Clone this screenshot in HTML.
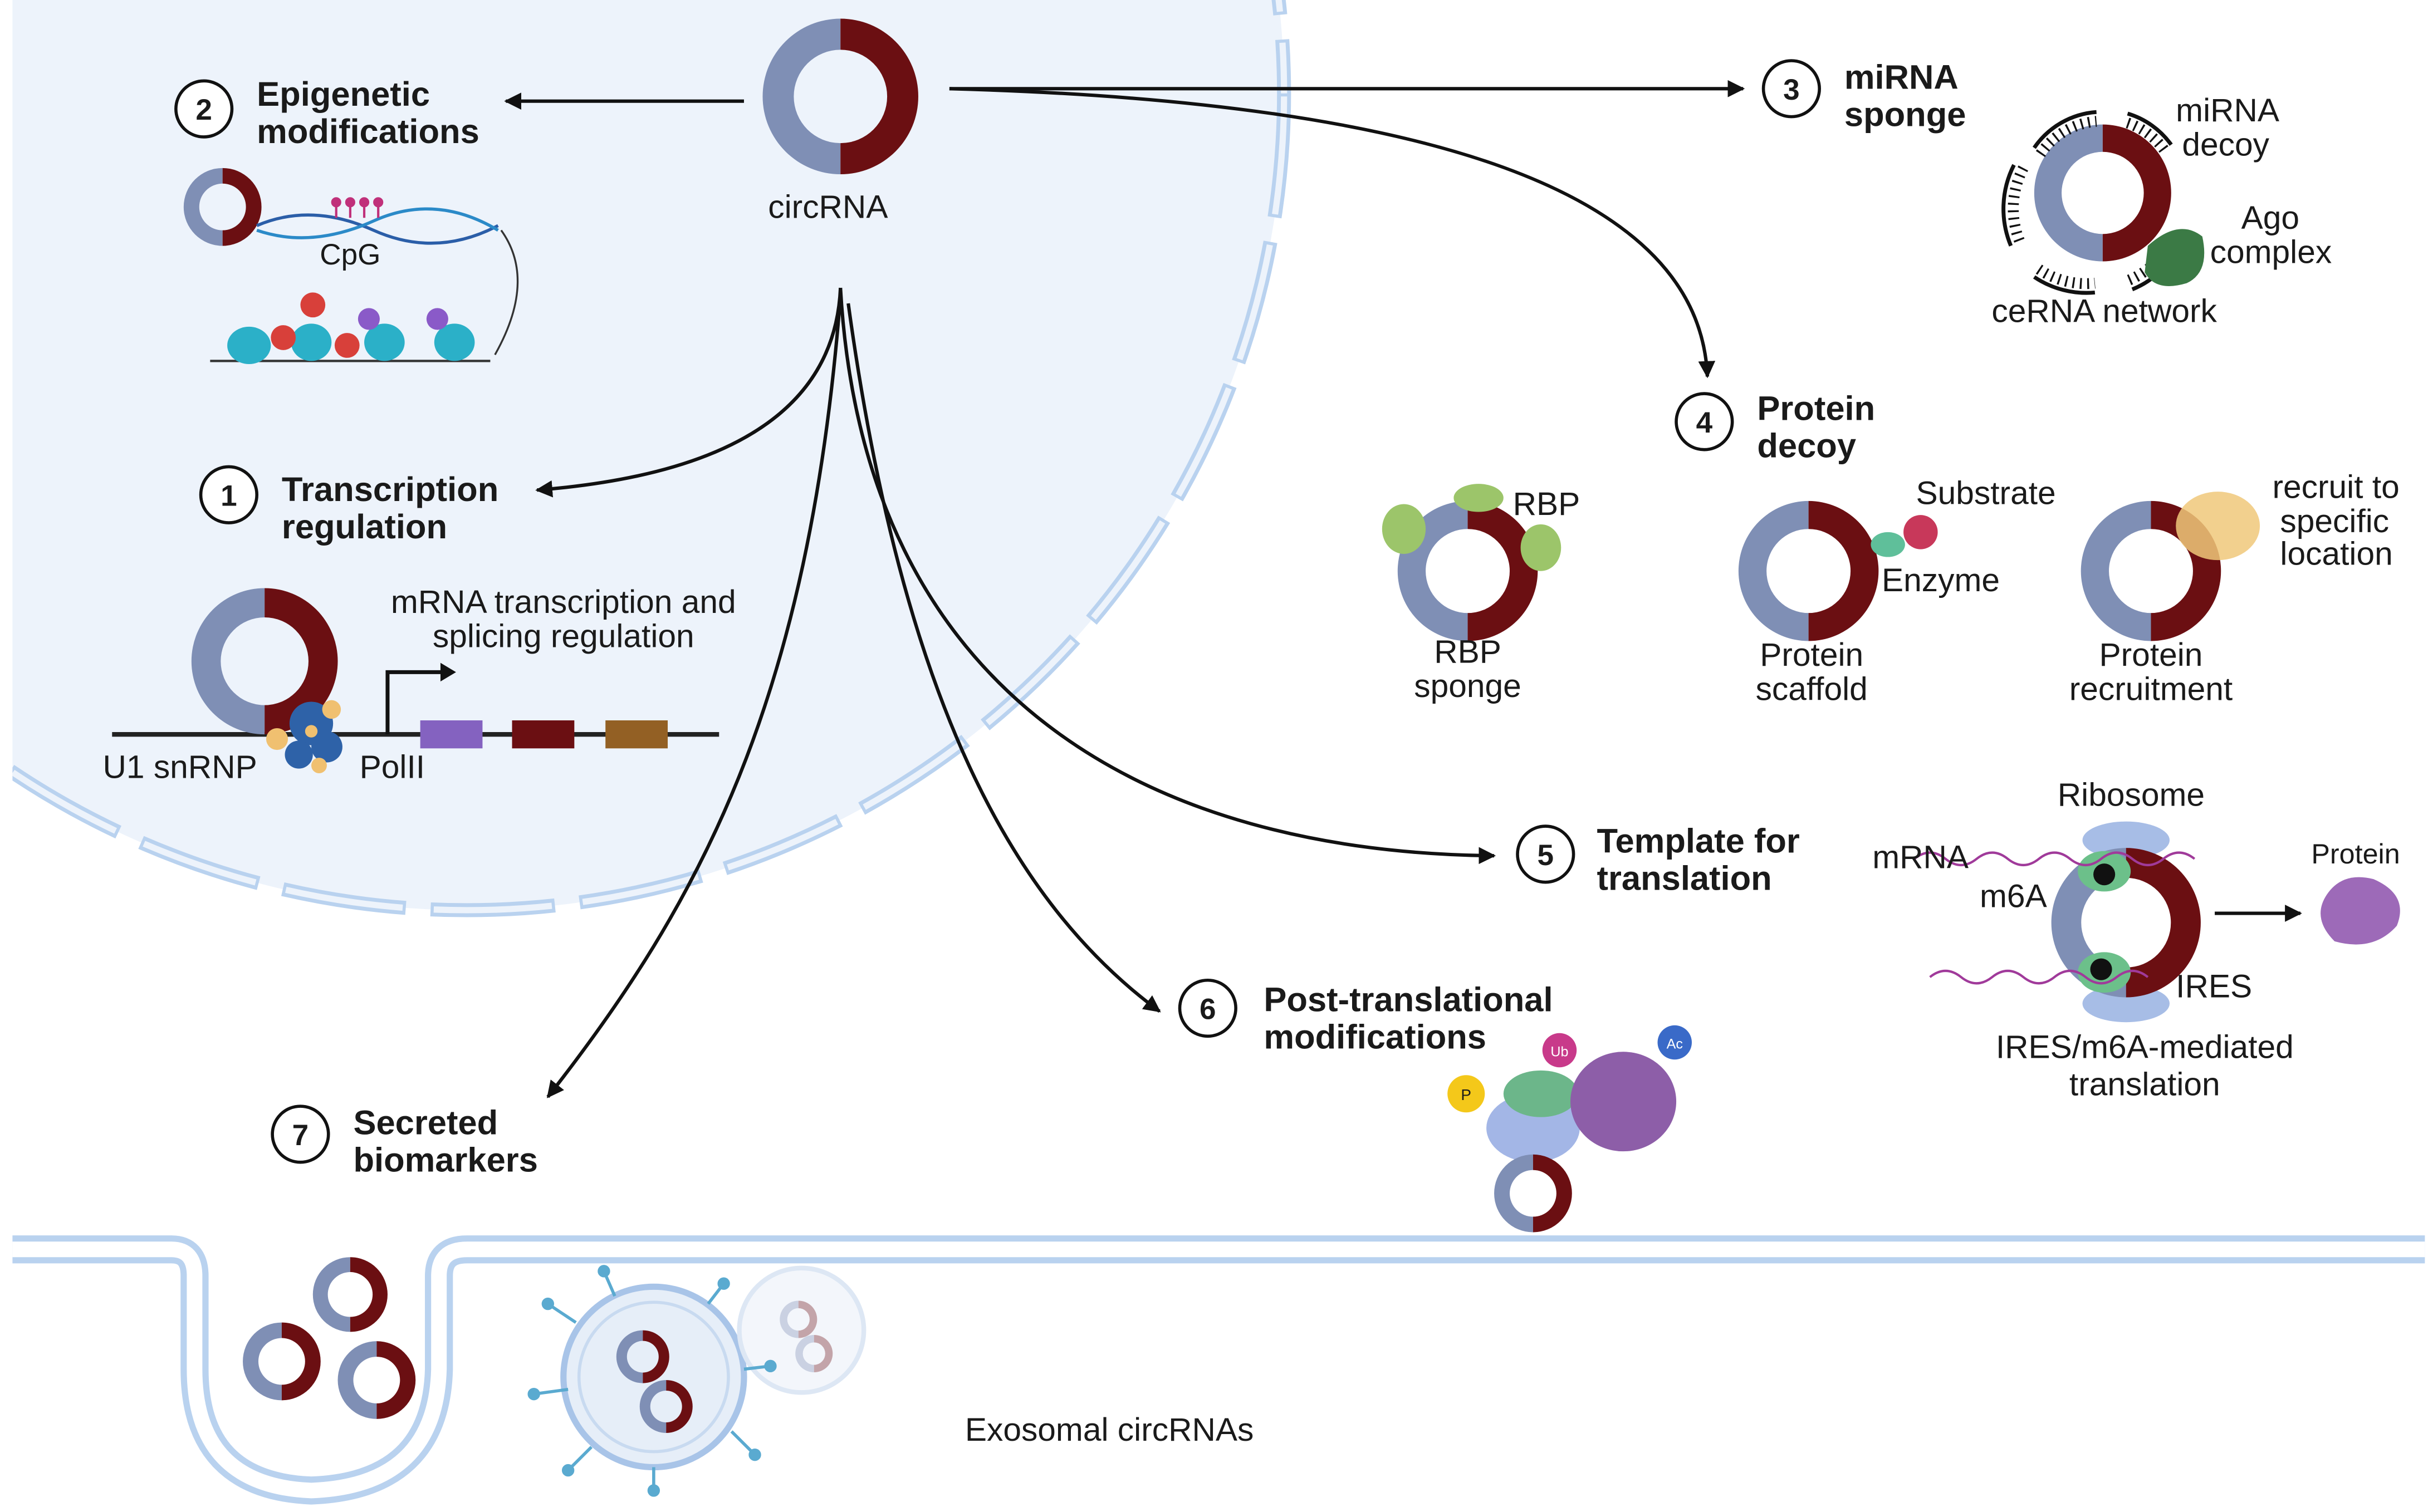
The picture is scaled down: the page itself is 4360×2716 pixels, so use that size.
<!DOCTYPE html>
<html><head><meta charset="utf-8"><style>
html,body{margin:0;padding:0;background:#fff;}
svg{display:block;}
text{font-family:"Liberation Sans",Arial,sans-serif;fill:#1a1a1a;}
.h{font-weight:bold;font-size:22px;}
.t{font-size:21px;}
.n{font-size:19px;font-weight:bold;text-anchor:middle;}
</style></head><body>
<svg width="4360" height="2716" viewBox="0 0 1560 971.8" xmlns="http://www.w3.org/2000/svg">
<defs>
<g id="ring">
<path d="M0,-50 A50,50 0 0,0 0,50 L0,30 A30,30 0 0,1 0,-30 Z" fill="#7f8fb5"/>
<path d="M0,-50 A50,50 0 0,1 0,50 L0,30 A30,30 0 0,0 0,-30 Z" fill="#6b0f12"/>
</g>
<marker id="ah" viewBox="0 0 10 10" refX="9" refY="5" markerWidth="5" markerHeight="5" orient="auto-start-reverse"><path d="M0,0 L10,5 L0,10 Z" fill="#111"/></marker>
</defs>
<rect width="1560" height="972" fill="#fff"/>
<clipPath id="c"><rect x="8" y="0" width="1552" height="972"/></clipPath>
<g clip-path="url(#c)">
<circle cx="300" cy="60" r="525" fill="#edf3fb"/>
<circle cx="300" cy="60" r="525" fill="none" stroke="#b9d2ef" stroke-width="9" stroke-dasharray="80 16"/>
<circle cx="300" cy="60" r="525" fill="none" stroke="#edf3fb" stroke-width="4" stroke-dasharray="76 20" stroke-dashoffset="-2"/>
</g>
<path d="M8,803 H110 Q125,803 125,820 V880 Q125,955 200,958 Q280,955 282,880 V820 Q282,803 300,803 H1558" fill="none" stroke="#b9d2ef" stroke-width="18"/>
<path d="M8,803 H110 Q125,803 125,820 V880 Q125,955 200,958 Q280,955 282,880 V820 Q282,803 300,803 H1558" fill="none" stroke="#fff" stroke-width="10"/>
<g fill="none" stroke="#111" stroke-width="2.2" marker-end="url(#ah)">
<path d="M478,65 H325"/>
<path d="M610,57 H1120"/>
<path d="M610,57 Q1090,70 1097,242"/>
<path d="M540,185 Q535,300 345,315"/>
<path d="M540,185 C555,450 740,548 960,550"/>
<path d="M545,195 C580,450 650,580 745,650"/>
<path d="M540,190 C520,450 450,580 352,705"/>
</g>
<use href="#ring" transform="translate(540,62)"/>
<text class="t" x="532" y="140" text-anchor="middle">circRNA</text>
<g fill="#fff" stroke="#111" stroke-width="2">
<circle cx="131" cy="70" r="18"/><circle cx="1151" cy="57" r="18"/><circle cx="1095" cy="271" r="18"/>
<circle cx="147" cy="318" r="18"/><circle cx="993" cy="549" r="18"/><circle cx="776" cy="648" r="18"/><circle cx="193" cy="729" r="18"/>
</g>
<text class="n" x="131" y="77">2</text><text class="n" x="1151" y="64">3</text><text class="n" x="1095" y="278">4</text>
<text class="n" x="147" y="325">1</text><text class="n" x="993" y="556">5</text><text class="n" x="776" y="655">6</text><text class="n" x="193" y="736">7</text>
<text class="h" x="165" y="68">Epigenetic</text><text class="h" x="165" y="92">modifications</text>
<text class="h" x="1185" y="57">miRNA</text><text class="h" x="1185" y="81">sponge</text>
<text class="h" x="1129" y="270">Protein</text><text class="h" x="1129" y="294">decoy</text>
<text class="h" x="181" y="322">Transcription</text><text class="h" x="181" y="346">regulation</text>
<text class="h" x="1026" y="548">Template for</text><text class="h" x="1026" y="572">translation</text>
<text class="h" x="812" y="650">Post-translational</text><text class="h" x="812" y="674">modifications</text>
<text class="h" x="227" y="729">Secreted</text><text class="h" x="227" y="753">biomarkers</text>
<use href="#ring" transform="translate(143,133) scale(0.5)"/>
<path d="M165,145 Q200,130 240,148 T320,145" fill="none" stroke="#2b5ea8" stroke-width="2"/>
<path d="M165,148 Q200,160 240,142 T320,148" fill="none" stroke="#2b8ac8" stroke-width="2"/>
<g stroke="#c0307a" stroke-width="1.5" fill="#c0307a"><line x1="216" y1="140" x2="216" y2="130"/><line x1="225" y1="140" x2="225" y2="130"/><line x1="234" y1="140" x2="234" y2="130"/><line x1="243" y1="140" x2="243" y2="130"/>
<circle cx="216" cy="130" r="2.5"/><circle cx="225" cy="130" r="2.5"/><circle cx="234" cy="130" r="2.5"/><circle cx="243" cy="130" r="2.5"/></g>
<text class="t" x="225" y="170" text-anchor="middle" style="font-size:19px">CpG</text>
<path d="M322,148 Q345,180 318,228" fill="none" stroke="#333" stroke-width="1.2"/>
<line x1="135" y1="232" x2="315" y2="232" stroke="#333" stroke-width="1.5"/>
<g fill="#2bb0c8"><ellipse cx="160" cy="222" rx="14" ry="12"/><ellipse cx="200" cy="220" rx="13" ry="12"/><ellipse cx="247" cy="220" rx="13" ry="12"/><ellipse cx="292" cy="220" rx="13" ry="12"/></g>
<g fill="#d8403a"><circle cx="201" cy="196" r="8"/><circle cx="182" cy="217" r="8"/><circle cx="223" cy="222" r="8"/></g>
<g fill="#8a5ac8"><circle cx="237" cy="205" r="7"/><circle cx="281" cy="205" r="7"/></g>
<line x1="72" y1="472" x2="462" y2="472" stroke="#222" stroke-width="3"/>
<use href="#ring" transform="translate(170,425) scale(0.94)"/>
<g fill="#2e62a8"><circle cx="200" cy="465" r="14"/><circle cx="210" cy="480" r="10"/><circle cx="192" cy="485" r="9"/></g>
<g fill="#f0c070"><circle cx="178" cy="475" r="7"/><circle cx="213" cy="456" r="6"/><circle cx="205" cy="492" r="5"/><circle cx="200" cy="470" r="4"/></g>
<path d="M249,472 V432 H285" fill="none" stroke="#111" stroke-width="2.5"/><path d="M283,426 L293,432 L283,438 Z" fill="#111"/>
<rect x="270" y="463" width="40" height="18" fill="#8462c0"/><rect x="329" y="463" width="40" height="18" fill="#6b0f12"/><rect x="389" y="463" width="40" height="18" fill="#936024"/>
<text class="t" x="362" y="394" text-anchor="middle">mRNA transcription and</text>
<text class="t" x="362" y="416" text-anchor="middle">splicing regulation</text>
<text class="t" x="66" y="500">U1 snRNP</text><text class="t" x="231" y="500">PolII</text>
<use href="#ring" transform="translate(1351,124) scale(0.88)"/>
<g fill="none" stroke="#111" stroke-width="2.5">
<path d="M1307,95 A53,53 0 0,1 1347,72"/><path d="M1367,73 A53,53 0 0,1 1395,93"/>
<path d="M1294,106 A62,62 0 0,0 1292,158"/><path d="M1307,178 A60,60 0 0,0 1346,188"/><path d="M1370,186 A58,58 0 0,0 1398,162"/>
</g>
<g fill="none" stroke="#111" stroke-width="7" stroke-dasharray="1.2 3.5">
<path d="M1311,99 A48,48 0 0,1 1347,78"/><path d="M1367,79 A48,48 0 0,1 1391,97"/>
<path d="M1300,108 A56,56 0 0,0 1298,156"/><path d="M1310,173 A54,54 0 0,0 1346,182"/><path d="M1368,180 A52,52 0 0,0 1393,158"/>
</g>
<path d="M1380,158 Q1400,140 1415,152 Q1420,175 1405,182 Q1385,188 1378,175 Z" fill="#3b7a45"/>
<text class="t" x="1398" y="78">miRNA</text><text class="t" x="1402" y="100">decoy</text>
<text class="t" x="1440" y="147">Ago</text><text class="t" x="1420" y="169">complex</text>
<text class="t" x="1352" y="207" text-anchor="middle">ceRNA network</text>
<use href="#ring" transform="translate(943,367) scale(0.9)"/>
<g fill="#9cc56a"><ellipse cx="950" cy="320" rx="16" ry="9"/><ellipse cx="902" cy="340" rx="14" ry="16"/><ellipse cx="990" cy="352" rx="13" ry="15"/></g>
<text class="t" x="972" y="331">RBP</text>
<text class="t" x="943" y="426" text-anchor="middle">RBP</text><text class="t" x="943" y="448" text-anchor="middle">sponge</text>
<use href="#ring" transform="translate(1162,367) scale(0.9)"/>
<ellipse cx="1213" cy="350" rx="11" ry="8" fill="#5fbf9a"/><circle cx="1234" cy="342" r="11" fill="#c8385a"/>
<text class="t" x="1231" y="324">Substrate</text><text class="t" x="1209" y="380">Enzyme</text>
<text class="t" x="1164" y="428" text-anchor="middle">Protein</text><text class="t" x="1164" y="450" text-anchor="middle">scaffold</text>
<use href="#ring" transform="translate(1382,367) scale(0.9)"/>
<ellipse cx="1425" cy="338" rx="27" ry="22" fill="#f0c87a" opacity="0.85"/>
<text class="t" x="1460" y="320">recruit to</text><text class="t" x="1465" y="342">specific</text><text class="t" x="1465" y="363">location</text>
<text class="t" x="1382" y="428" text-anchor="middle">Protein</text><text class="t" x="1382" y="450" text-anchor="middle">recruitment</text>
<ellipse cx="1366" cy="540" rx="28" ry="12" fill="#a7bde6"/><ellipse cx="1366" cy="645" rx="28" ry="12" fill="#a7bde6"/>
<use href="#ring" transform="translate(1366,593) scale(0.96)"/>
<ellipse cx="1352" cy="560" rx="17" ry="13" fill="#6cc08a"/><ellipse cx="1352" cy="625" rx="17" ry="13" fill="#6cc08a"/>
<circle cx="1352" cy="562" r="7" fill="#111"/><circle cx="1350" cy="623" r="7" fill="#111"/>
<path d="M1230,552 q10,-8 20,0 t20,0 t20,0 t20,0 t20,0 t20,0 t20,0 t20,0 t20,0" fill="none" stroke="#a03a9a" stroke-width="1.5"/>
<path d="M1240,628 q10,-8 20,0 t20,0 t20,0 t20,0 t20,0 t20,0 t20,0" fill="none" stroke="#a03a9a" stroke-width="1.5"/>
<text class="t" x="1322" y="518">Ribosome</text><text class="t" x="1203" y="558">mRNA</text><text class="t" x="1272" y="583">m6A</text><text class="t" x="1398" y="641">IRES</text>
<line x1="1423" y1="587" x2="1478" y2="587" stroke="#111" stroke-width="2.2" marker-end="url(#ah)"/>
<path d="M1495,575 Q1505,560 1525,565 Q1548,575 1540,595 Q1525,612 1500,605 Q1485,590 1495,575 Z" fill="#9d6ab8"/>
<text class="t" x="1485" y="555" style="font-size:18px">Protein</text>
<text class="t" x="1378" y="680" text-anchor="middle">IRES/m6A-mediated</text><text class="t" x="1378" y="704" text-anchor="middle">translation</text>
<ellipse cx="985" cy="725" rx="30" ry="22" fill="#a3b6e6"/>
<ellipse cx="990" cy="703" rx="24" ry="15" fill="#6cb68a"/>
<ellipse cx="1043" cy="708" rx="34" ry="32" fill="#8d5ea8"/>
<circle cx="942" cy="703" r="12" fill="#f4c81a"/><circle cx="1002" cy="675" r="11" fill="#c83a8a"/><circle cx="1076" cy="670" r="11" fill="#3a6ac8"/>
<text x="942" y="707" font-size="10" text-anchor="middle">P</text><text x="1002" y="679" font-size="9" text-anchor="middle" style="fill:#fff">Ub</text><text x="1076" y="674" font-size="9" text-anchor="middle" style="fill:#fff">Ac</text>
<use href="#ring" transform="translate(985,767) scale(0.5)"/>
<use href="#ring" transform="translate(181,875) scale(0.5)"/><use href="#ring" transform="translate(225,832) scale(0.48)"/><use href="#ring" transform="translate(242,887) scale(0.5)"/>
<circle cx="420" cy="885" r="58" fill="#e6eef8" stroke="#a8c4e8" stroke-width="4"/>
<circle cx="420" cy="885" r="48" fill="none" stroke="#c8daf0" stroke-width="2"/>
<circle cx="515" cy="855" r="40" fill="#f3f6fb" stroke="#dde7f4" stroke-width="3"/>
<g stroke="#5aaad0" stroke-width="2" fill="#5aaad0">
<line x1="370" y1="850" x2="352" y2="838"/><circle cx="352" cy="838" r="3"/><line x1="365" y1="893" x2="343" y2="896"/><circle cx="343" cy="896" r="3"/>
<line x1="380" y1="930" x2="365" y2="945"/><circle cx="365" cy="945" r="3"/><line x1="470" y1="920" x2="485" y2="935"/><circle cx="485" cy="935" r="3"/>
<line x1="395" y1="833" x2="388" y2="817"/><circle cx="388" cy="817" r="3"/><line x1="455" y1="838" x2="465" y2="825"/><circle cx="465" cy="825" r="3"/>
<line x1="420" y1="943" x2="420" y2="958"/><circle cx="420" cy="958" r="3"/><line x1="478" y1="880" x2="495" y2="878"/><circle cx="495" cy="878" r="3"/>
</g>
<use href="#ring" transform="translate(413,872) scale(0.34)"/><use href="#ring" transform="translate(428,904) scale(0.34)"/>
<g opacity="0.35"><use href="#ring" transform="translate(513,848) scale(0.24)"/><use href="#ring" transform="translate(523,870) scale(0.24)"/></g>
<text class="t" x="620" y="926">Exosomal circRNAs</text>
</svg>
</body></html>
